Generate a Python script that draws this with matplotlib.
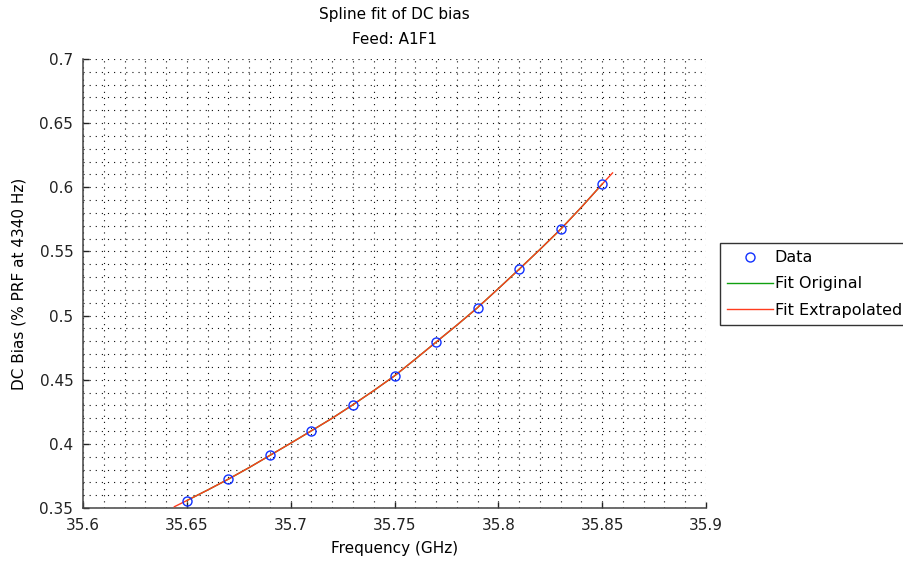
import numpy as np
import matplotlib
matplotlib.use('Agg')
import matplotlib.pyplot as plt
from matplotlib.ticker import MultipleLocator

plt.rcParams['font.family'] = ['DejaVu Sans']

# measured DC bias points
freq = [35.65, 35.67, 35.69, 35.71, 35.73, 35.75, 35.77, 35.79, 35.81, 35.83, 35.85]
dc_bias = [0.3555, 0.3724, 0.3916, 0.4100, 0.4304, 0.4530, 0.4793, 0.5062, 0.5361, 0.5673, 0.6025]

# spline curve
fit_freq = [35.644, 35.65, 35.66, 35.67, 35.68, 35.69, 35.70, 35.71, 35.72, 35.73, 35.74, 35.75,
            35.76, 35.77, 35.78, 35.79, 35.80, 35.81, 35.82, 35.83, 35.84, 35.85, 35.855]
fit_bias = [0.3510, 0.3558, 0.3640, 0.3725, 0.3815, 0.3910, 0.4005, 0.4102, 0.4200, 0.4305, 0.4415, 0.4530,
            0.4660, 0.4793, 0.4925, 0.5062, 0.5210, 0.5361, 0.5515, 0.5673, 0.5845, 0.6025, 0.6112]

# original fit covers only the data range
orig_freq = fit_freq[1:-1]
orig_bias = fit_bias[1:-1]

fig = plt.figure(figsize=(9.04, 5.64), dpi=100)
ax = fig.add_axes([0.0918, 0.0993, 0.6892, 0.7961])

ax.plot(freq, dc_bias, 'o', mfc='none', mec='#1030ff', ms=6.5, mew=1.0, label='Data', zorder=5)
ax.plot(orig_freq, orig_bias, '-', color='#10a010', lw=1.0, label='Fit Original', zorder=3)
ax.plot(fit_freq, fit_bias, '-', color='#ff3c1e', lw=1.0, label='Fit Extrapolated', zorder=4)

ax.set_xlim(35.6, 35.9)
ax.set_ylim(0.35, 0.7)
ax.xaxis.set_major_locator(MultipleLocator(0.05))
ax.yaxis.set_major_locator(MultipleLocator(0.05))
ax.xaxis.set_minor_locator(MultipleLocator(0.01))
ax.yaxis.set_minor_locator(MultipleLocator(0.01))
ax.set_xticklabels([f'{v:g}' for v in ax.get_xticks()])
ax.set_yticklabels([f'{v:g}' for v in ax.get_yticks()])

ax.grid(True, which='both', color='#111111', linestyle=(0, (1, 4.5)), linewidth=0.8)
ax.set_axisbelow(True)

for s in ['top', 'right']:
    ax.spines[s].set_visible(False)
for s in ['left', 'bottom']:
    ax.spines[s].set_color('#444444')
    ax.spines[s].set_linewidth(1.1)

ax.tick_params(which='major', direction='in', length=4, width=1, colors='#222222',
               labelsize=11, pad=7)
ax.tick_params(which='minor', length=0)

ax.set_xlabel('Frequency (GHz)', fontsize=11, labelpad=6)
ax.set_ylabel('DC Bias (% PRF at 4340 Hz)', fontsize=11, labelpad=9)
ax.set_title('Spline fit of DC bias\nFeed: A1F1', fontsize=11, pad=11, linespacing=1.85)

leg = ax.legend(loc='upper left', bbox_to_anchor=(0.796, 0.569), bbox_transform=fig.transFigure,
                borderaxespad=0, fontsize=11.5, frameon=True, fancybox=False, framealpha=1,
                handlelength=2.9, handletextpad=0.1, borderpad=0.45, labelspacing=0.7)
leg.get_frame().set_edgecolor('#333333')
leg.get_frame().set_linewidth(1.0)

fig.savefig('out.png', dpi=100)
